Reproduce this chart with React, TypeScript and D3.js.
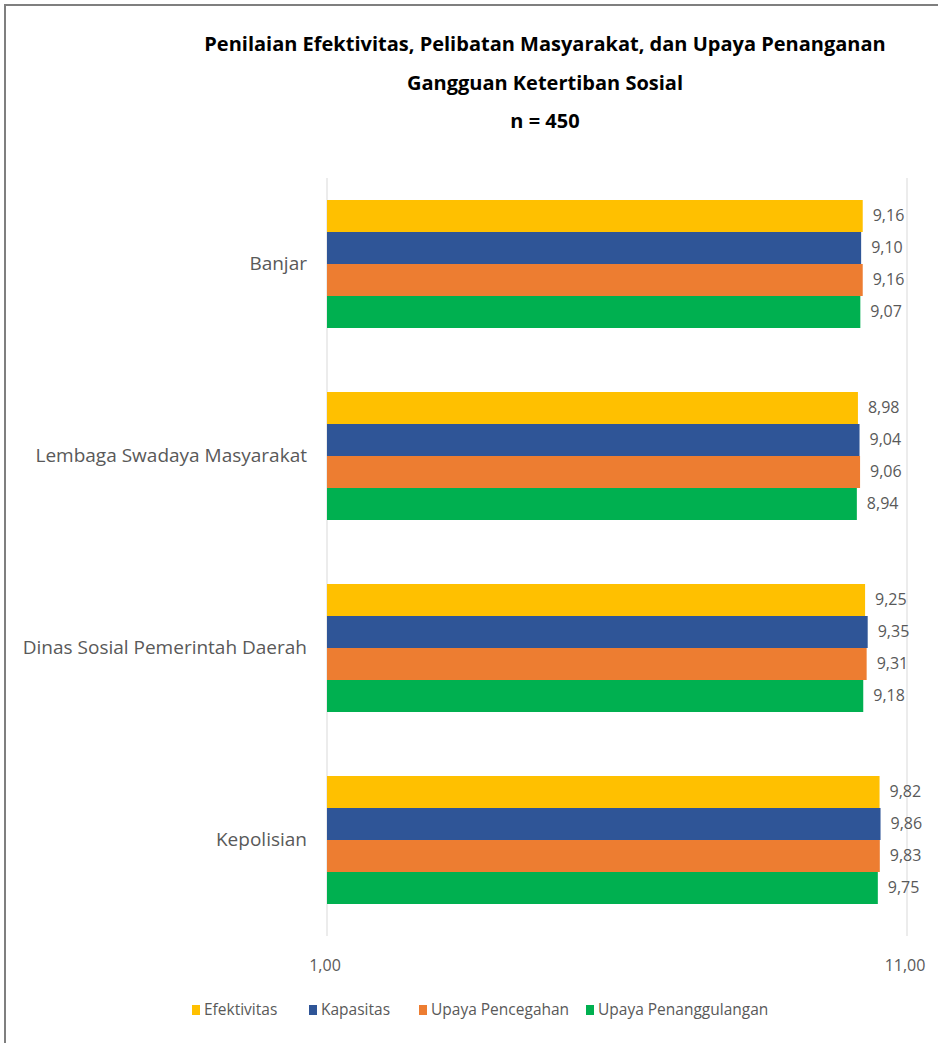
import React from "react";
import * as d3 from "d3";

const categories = ["Banjar", "Lembaga Swadaya Masyarakat", "Dinas Sosial Pemerintah Daerah", "Kepolisian"];
const seriesNames = ["Efektivitas", "Kapasitas", "Upaya Pencegahan", "Upaya Penanggulangan"];
const efektivitas = [9.16, 8.98, 9.25, 9.82];
const kapasitas = [9.10, 9.04, 9.35, 9.86];
const pencegahan = [9.16, 9.06, 9.31, 9.83];
const penanggulangan = [9.07, 8.94, 9.18, 9.75];
const seriesValues = [efektivitas, kapasitas, pencegahan, penanggulangan];
const colors = ["#FFC000", "#2F5597", "#ED7D31", "#00B050"];
const axisTicks = [1, 11];
const titleLines = [
  "Penilaian Efektivitas, Pelibatan Masyarakat, dan Upaya Penanganan",
  "Gangguan Ketertiban Sosial",
  "n = 450",
];

const FONT = "'Open Sans', sans-serif";

export default function App() {
  const W = 938, H = 1043;
  const x = d3.scaleLog().domain([1, 11]).range([327, 907]);
  const y = d3.scaleBand<string>().domain(categories).range([168, 936]).paddingInner(1 / 3).paddingOuter(1 / 6);
  const inner = d3.scaleBand<string>().domain(seriesNames).range([0, y.bandwidth()]);
  const fmt = (v: number) => v.toFixed(2).replace(".", ",");

  const legendX = [192, 309, 419, 586];

  return (
    <svg width={W} height={H} style={{ position: "absolute", left: 0, top: 0, background: "#fff" }}>
      <rect x={5} y={5} width={W + 10} height={H + 10} fill="#fff" stroke="#7f7f7f" strokeWidth={2} />
      {titleLines.map((t, i) => (
        <text key={i} x={545} y={51 + i * 38.5} textAnchor="middle" fontFamily={FONT} fontWeight="bold" fontSize={20} fill="#000">{t}</text>
      ))}
      {axisTicks.map((t) => (
        <line key={t} x1={x(t)} x2={x(t)} y1={178} y2={936} stroke="#d9d9d9" strokeWidth={1} />
      ))}
      {categories.map((c, ci) => (
        <g key={c}>
          <text x={307} y={(y(c) as number) + y.bandwidth() / 2 + 6} textAnchor="end" fontFamily={FONT} fontSize={19} fill="#595959">{c}</text>
          {seriesNames.map((s, si) => {
            const v = seriesValues[si][ci];
            const by = (y(c) as number) + (inner(s) as number);
            return (
              <g key={s}>
                <rect x={x(1)} y={by} width={x(v) - x(1)} height={inner.bandwidth()} fill={colors[si]} />
                <text x={x(v) + 10} y={by + inner.bandwidth() / 2 + 5} fontFamily={FONT} fontSize={16} fill="#595959">{fmt(v)}</text>
              </g>
            );
          })}
        </g>
      ))}
      {axisTicks.map((t) => (
        <text key={"l" + t} x={x(t) - 2} y={971} textAnchor="middle" fontFamily={FONT} fontSize={16} fill="#595959">{fmt(t)}</text>
      ))}
      {seriesNames.map((s, i) => (
        <g key={s} transform={`translate(${legendX[i]},1010)`}>
          <rect x={0} y={-5} width={8} height={10} fill={colors[i]} />
          <text x={12} y={5} fontFamily={FONT} fontSize={15.5} fill="#595959">{s}</text>
        </g>
      ))}
    </svg>
  );
}
